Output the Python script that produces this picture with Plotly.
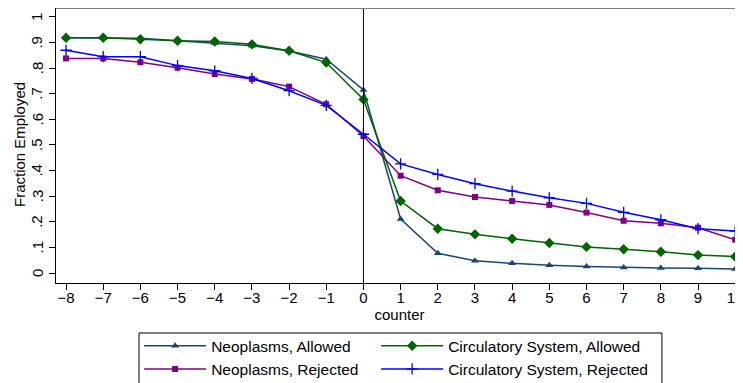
import plotly.graph_objects as go

counter = list(range(-8, 11))
neo_allowed = [0.919, 0.919, 0.917, 0.907, 0.898, 0.888, 0.867, 0.835, 0.715, 0.211, 0.077, 0.048, 0.038, 0.030, 0.025, 0.022, 0.020, 0.019, 0.016]
circ_allowed = [0.919, 0.919, 0.913, 0.907, 0.904, 0.893, 0.868, 0.822, 0.678, 0.281, 0.173, 0.151, 0.134, 0.117, 0.102, 0.093, 0.083, 0.070, 0.064]
neo_rejected = [0.838, 0.838, 0.823, 0.802, 0.777, 0.758, 0.728, 0.659, 0.535, 0.380, 0.323, 0.297, 0.281, 0.266, 0.236, 0.204, 0.194, 0.177, 0.130]
circ_rejected = [0.870, 0.845, 0.845, 0.810, 0.790, 0.760, 0.712, 0.655, 0.542, 0.426, 0.385, 0.349, 0.320, 0.294, 0.272, 0.237, 0.208, 0.173, 0.164]
y_ticks = [0, 0.1, 0.2, 0.3, 0.4, 0.5, 0.6, 0.7, 0.8, 0.9, 1]
y_tick_labels = ["0", ".1", ".2", ".3", ".4", ".5", ".6", ".7", ".8", ".9", "1"]
x_tick_labels = ["\u22128", "\u22127", "\u22126", "\u22125", "\u22124", "\u22123", "\u22122", "\u22121",
                 "0", "1", "2", "3", "4", "5", "6", "7", "8", "9", "10"]

FONT = "Liberation Sans"
FS = 15
Y_RANGE = [-0.039, 1.035]
fig = go.Figure()

series = [
    ("Neoplasms, Allowed", neo_allowed, "#1a476f", dict(symbol="triangle-up", size=7), "legend"),
    ("Neoplasms, Rejected", neo_rejected, "#800080", dict(symbol="square", size=6), "legend"),
    ("Circulatory System, Allowed", circ_allowed, "#006400", dict(symbol="diamond", size=8), "legend2"),
    ("Circulatory System, Rejected", circ_rejected, "#0000ff",
     dict(symbol="cross-thin", size=8, line=dict(width=1.3, color="#0000ff")), "legend2"),
]
for name, vals, col, mk, lg in series:
    fig.add_trace(go.Scatter(
        x=counter, y=vals, name=name, mode="lines+markers",
        line=dict(color=col, width=1.5),
        marker=dict(color=col, **mk),
        cliponaxis=False, legend=lg,
    ))

fig.add_shape(type="line", xref="x", yref="paper", x0=0, x1=0, y0=0, y1=1,
              line=dict(color="black", width=1))
fig.add_shape(type="line", xref="paper", yref="paper", x0=0, x1=1, y0=1, y1=1,
              line=dict(color="#808080", width=2))
# legend frame
fig.add_shape(type="rect", xref="paper", yref="paper", x0=0.1208, x1=0.882, y0=-0.1818, y1=-0.45,
              line=dict(color="black", width=1), fillcolor="rgba(0,0,0,0)", layer="above")

# rotated y tick labels (Stata style)
for v, t in zip(y_ticks, y_tick_labels):
    fig.add_annotation(x=0, xref="paper", xanchor="center", xshift=-19,
                       y=v, yref="y", yanchor="middle",
                       text=t, textangle=-90, showarrow=False,
                       font=dict(family=FONT, size=FS, color="black"))
# y axis title
fig.add_annotation(x=0, xref="paper", xanchor="center", xshift=-36,
                   y=(0.5 - Y_RANGE[0]) / (Y_RANGE[1] - Y_RANGE[0]), yref="paper", yanchor="middle",
                   text="Fraction Employed", textangle=-90, showarrow=False,
                   font=dict(family=FONT, size=FS, color="black"))

legend_common = dict(
    orientation="v", yanchor="top", xanchor="left",
    bgcolor="rgba(0,0,0,0)", borderwidth=0, itemwidth=62,
    font=dict(family=FONT, size=15.5, color="black"), traceorder="normal",
)

# the page body has an 8px margin; size the figure so the visible frame matches
fig.update_layout(
    width=735, height=375,
    margin=dict(l=48, r=0, t=0, b=100, autoexpand=False),
    paper_bgcolor="white", plot_bgcolor="white",
    font=dict(family=FONT, size=FS, color="black"),
    xaxis=dict(
        range=[-8.27, 10.21], tickmode="array", tickvals=counter, ticktext=x_tick_labels,
        showgrid=False, zeroline=False, showline=True, linecolor="black", linewidth=1,
        ticks="outside", ticklen=6, tickcolor="black", ticklabeloverflow="allow",
        ticklabelstandoff=-5, automargin=False,
        title=dict(text="counter", standoff=2, font=dict(size=FS)),
    ),
    yaxis=dict(
        range=Y_RANGE, tickmode="array", tickvals=y_ticks, showticklabels=False,
        showgrid=False, zeroline=False, showline=True, linecolor="black", linewidth=1,
        ticks="outside", ticklen=6, tickcolor="black", automargin=False,
    ),
    legend=dict(x=0.121, y=-0.168, **legend_common),
    legend2=dict(x=0.466, y=-0.168, **legend_common),
    showlegend=True,
)

fig.write_html(
    "out.html",
    post_script="document.documentElement.style.overflow='hidden';document.body.style.overflow='hidden';",
)
